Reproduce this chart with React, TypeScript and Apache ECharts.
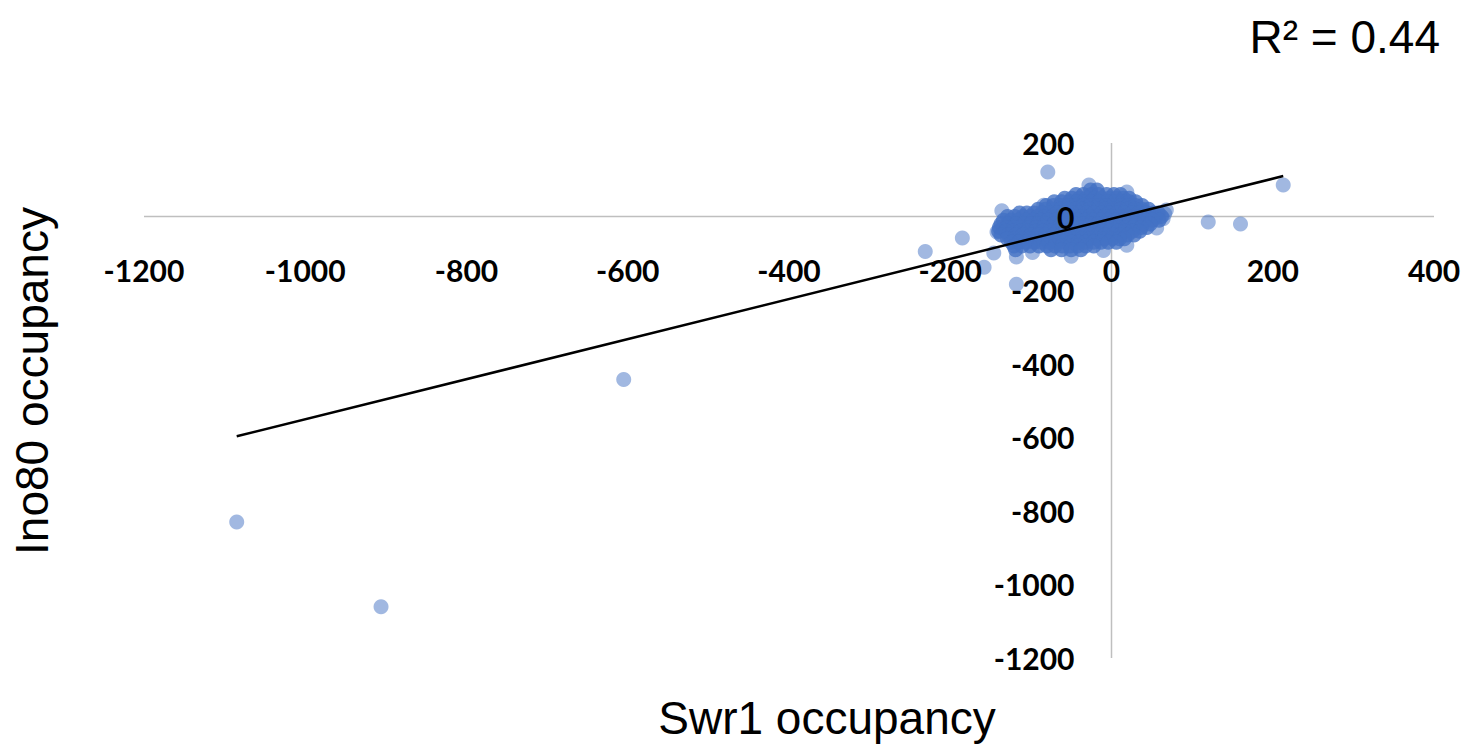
import React, { useEffect, useRef } from "react";
import * as echarts from "echarts";

// Axis ranges and tick spacing
const xRange = [-1200, 400];
const yRange = [-1200, 200];
const tickStep = 200;

// Regression line fitted through the occupancy scatter
const trendSlope = 0.545;
const trendIntercept = -6;
const rSquared = "0.44";

// Isolated loci far from the main cloud
const outlierPoints: [number, number][] = [
  [-1085, -830],
  [-906, -1061],
  [-605, -443],
  [213, 86],
  [160, -20],
  [120, -15],
  [-79, 121],
];

// Sparse loci around the rim of the main cloud
const rimPoints: [number, number][] = [
  [-231, -95],
  [-185, -58],
  [-158, -138],
  [-118, -184],
  [-118, -110],
  [-146, -99],
  [-142, -42],
  [-136, 16],
  [-84, 31],
  [-28, 86],
  [19, 67],
  [68, 18],
  [56, -31],
  [66, 8],
  [64, -6],
  [19, -78],
  [-50, -108],
  [-10, -92],
  [-98, -98],
];

// Dense core of the cloud, listed row by row (Ino80 value, Swr1 values)
const coreRows: { y: number; xs: number[] }[] = [
  { y: 72, xs: [-26, -18] },
  { y: 60, xs: [-44, -35, -25, -16, -6, 3, 11] },
  { y: 50, xs: [-58, -49, -40, -31, -21, -12, -3, 6, 15, 22] },
  { y: 40, xs: [-71, -62, -52, -43, -34, -25, -15, -6, 4, 13, 22, 30] },
  { y: 30, xs: [-81, -72, -63, -53, -44, -35, -26, -16, -7, 2, 12, 21, 30, 38] },
  { y: 20, xs: [-91, -82, -73, -63, -54, -45, -36, -27, -17, -8, 2, 11, 20, 29, 38, 46] },
  { y: 10, xs: [-114, -105, -96, -86, -77, -68, -59, -49, -40, -31, -22, -12, -3, 7, 16, 25, 34, 43, 52, 58] },
  { y: 0, xs: [-129, -120, -110, -101, -92, -83, -73, -64, -55, -46, -36, -27, -18, -9, 1, 10, 19, 28, 38, 47, 55, 62] },
  { y: -10, xs: [-134, -125, -116, -106, -97, -88, -79, -69, -60, -51, -42, -32, -23, -14, -4, 5, 14, 23, 33, 42, 51, 59] },
  { y: -20, xs: [-137, -128, -119, -109, -100, -91, -82, -72, -63, -54, -45, -35, -26, -17, -7, 2, 11, 21, 30, 39, 48] },
  { y: -30, xs: [-139, -130, -121, -112, -102, -93, -84, -75, -65, -56, -47, -38, -28, -19, -10, 0, 9, 18, 27, 37, 44] },
  { y: -40, xs: [-140, -131, -122, -113, -104, -94, -85, -76, -67, -57, -48, -39, -30, -20, -11, -2, 8, 17, 26, 35] },
  { y: -50, xs: [-137, -128, -119, -110, -100, -91, -82, -73, -63, -54, -45, -36, -26, -17, -8, 2, 11, 20, 28] },
  { y: -60, xs: [-129, -120, -111, -101, -92, -83, -74, -64, -55, -46, -37, -27, -18, -9, 1, 10, 16] },
  { y: -70, xs: [-124, -115, -106, -96, -87, -78, -69, -59, -50, -41, -32, -22, -13, -4, 6] },
  { y: -80, xs: [-121, -111, -101, -90, -80, -70, -61, -51, -42, -32, -22] },
  { y: -90, xs: [-119, -75, -62, -50, -38] },
];

const xTitle = "Swr1 occupancy";
const yTitle = "Ino80 occupancy";

const corePoints: [number, number][] = coreRows.flatMap((row) =>
  row.xs.map((x) => [x, row.y] as [number, number])
);
const sparsePoints = [...outlierPoints, ...rimPoints];

const xs = [...sparsePoints, ...corePoints].map((p) => p[0]);
const trendXMin = Math.min(...xs);
const trendXMax = Math.max(...xs);
const trendData = [
  [trendXMin, trendSlope * trendXMin + trendIntercept],
  [trendXMax, trendSlope * trendXMax + trendIntercept],
];

// Plot box
const gridLeft = 144;
const gridRight = 34;
const gridTop = 143;
const gridBottom = 88;
const chartW = 1468;
const chartH = 746;
const plotW = chartW - gridLeft - gridRight;
const plotH = chartH - gridTop - gridBottom;

// Shift each axis from the plot edge to the other axis's zero
const xAxisOffset = -plotH * ((0 - yRange[0]) / (yRange[1] - yRange[0]));
const yAxisOffset = -plotW * ((0 - xRange[0]) / (xRange[1] - xRange[0]));

const tickFont = {
  fontFamily: "Lato",
  fontWeight: "bold" as const,
  fontSize: 30,
  color: "#000",
};
const axisGray = "#BFBFBF";

// Axes carry the tick labels (drawn above the markers); the visible zero
// lines are drawn as series underneath the markers.
function valueAxis(range: number[], position: string, offset: number, margin: number) {
  return {
    type: "value",
    min: range[0],
    max: range[1],
    interval: tickStep,
    position,
    offset,
    z: 10,
    axisLine: { show: false, onZero: false },
    axisTick: { show: false },
    splitLine: { show: false },
    axisLabel: { ...tickFont, margin, formatter: (v: number) => String(v) },
  };
}

export default function App() {
  const ref = useRef<HTMLDivElement>(null);

  useEffect(() => {
    if (!ref.current) return;
    const chart = echarts.init(ref.current, null, { renderer: "svg" });
    chart.setOption({
      animation: false,
      backgroundColor: "#fff",
      grid: { left: gridLeft, right: gridRight, top: gridTop, bottom: gridBottom, containLabel: false },
      xAxis: valueAxis(xRange, "bottom", xAxisOffset, 38),
      yAxis: valueAxis(yRange, "left", yAxisOffset, 37),
      series: [
        {
          type: "line",
          data: [
            [xRange[0], 0],
            [xRange[1], 0],
          ],
          symbol: "none",
          silent: true,
          lineStyle: { color: axisGray, width: 1.5 },
          z: 0,
        },
        {
          type: "line",
          data: [
            [0, yRange[0]],
            [0, yRange[1]],
          ],
          symbol: "none",
          silent: true,
          lineStyle: { color: axisGray, width: 1.5 },
          z: 0,
        },
        {
          type: "scatter",
          data: sparsePoints,
          symbolSize: 15,
          itemStyle: { color: "#4472C4", opacity: 0.5 },
          z: 2,
        },
        {
          type: "scatter",
          data: corePoints,
          symbolSize: 15,
          itemStyle: { color: "#4472C4", opacity: 0.8 },
          z: 2,
        },
        {
          type: "line",
          data: trendData,
          symbol: "none",
          lineStyle: { color: "#000", width: 2.5 },
          z: 3,
        },
      ],
      graphic: [
        {
          type: "text",
          x: 827,
          y: 718,
          style: {
            text: xTitle,
            fontFamily: "Liberation Sans",
            fontSize: 46,
            fill: "#000",
            align: "center",
            verticalAlign: "middle",
          },
        },
        {
          type: "text",
          x: 32,
          y: 381,
          rotation: Math.PI / 2,
          style: {
            text: yTitle,
            fontFamily: "Liberation Sans",
            fontSize: 46,
            fill: "#000",
            align: "center",
            verticalAlign: "middle",
          },
        },
        {
          type: "text",
          x: 1440,
          y: 37,
          style: {
            text: "R² = " + rSquared,
            fontFamily: "Liberation Sans",
            fontSize: 46,
            fill: "#000",
            align: "right",
            verticalAlign: "middle",
          },
        },
      ],
    });
    return () => chart.dispose();
  }, []);

  return (
    <div
      ref={ref}
      style={{ position: "absolute", left: 0, top: 0, width: chartW, height: chartH }}
    />
  );
}
